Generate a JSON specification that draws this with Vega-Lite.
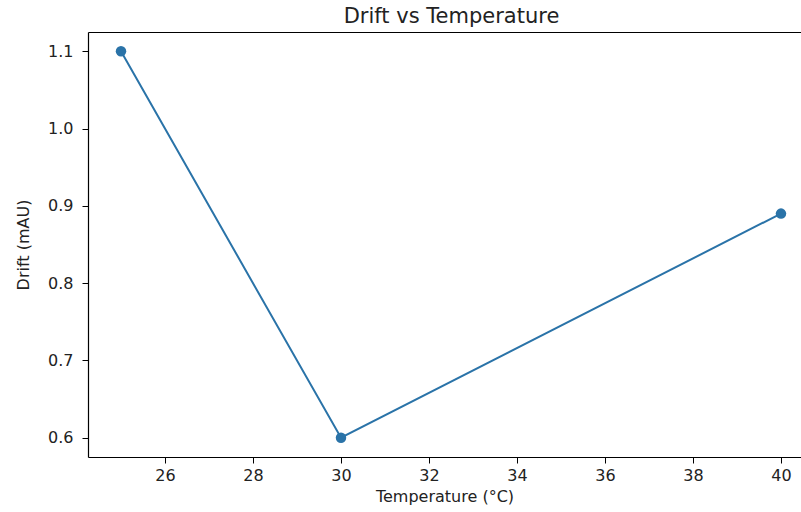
{
  "$schema": "https://vega.github.io/schema/vega-lite/v6.json",
  "width": 713,
  "height": 425,
  "autosize": "none",
  "padding": {"left": 88, "top": 32, "right": 0, "bottom": 55},
  "background": "white",
  "config": {
    "view": {"stroke": null},
    "font": "DejaVu Sans",
    "axis": {
      "domainColor": "#000000",
      "domainWidth": 1.2,
      "tickColor": "#000000",
      "tickSize": 6,
      "tickWidth": 1,
      "labelFont": "DejaVu Sans",
      "labelFontSize": 16,
      "labelColor": "#222222",
      "titleFont": "DejaVu Sans",
      "titleFontSize": 16,
      "titleFontWeight": "normal",
      "titleColor": "#222222",
      "grid": false
    }
  },
  "title": {
    "text": "Drift vs Temperature",
    "fontSize": 21,
    "font": "DejaVu Sans",
    "fontWeight": "normal",
    "color": "#222222",
    "anchor": "middle",
    "dx": 7,
    "offset": 5
  },
  "data": {
    "values": [
      {"temperature": 25, "drift": 1.1},
      {"temperature": 30, "drift": 0.6},
      {"temperature": 40, "drift": 0.89}
    ]
  },
  "layer": [
    {
      "mark": {"type": "line", "color": "#2a73a8", "strokeWidth": 2},
      "encoding": {
        "x": {
          "field": "temperature",
          "type": "quantitative",
          "scale": {"domain": [24.25, 40.455], "nice": false, "zero": false},
          "axis": {
            "orient": "bottom",
            "title": "Temperature (°C)",
            "values": [26, 28, 30, 32, 34, 36, 38, 40],
            "labelPadding": 4,
            "titlePadding": 5
          }
        },
        "y": {
          "field": "drift",
          "type": "quantitative",
          "scale": {"domain": [0.575, 1.125], "nice": false, "zero": false},
          "axis": {
            "title": "Drift (mAU)",
            "values": [0.6, 0.7, 0.8, 0.9, 1.0, 1.1],
            "format": ".1f",
            "labelPadding": 9,
            "titlePadding": 16
          }
        }
      }
    },
    {
      "mark": {"type": "point", "filled": true, "color": "#2a73a8", "size": 110, "opacity": 1},
      "encoding": {
        "x": {
          "field": "temperature",
          "type": "quantitative",
          "axis": {"orient": "top", "title": null, "labels": false, "ticks": false, "domain": true}
        },
        "y": {"field": "drift", "type": "quantitative"}
      }
    }
  ],
  "resolve": {"axis": {"x": "independent"}}
}
